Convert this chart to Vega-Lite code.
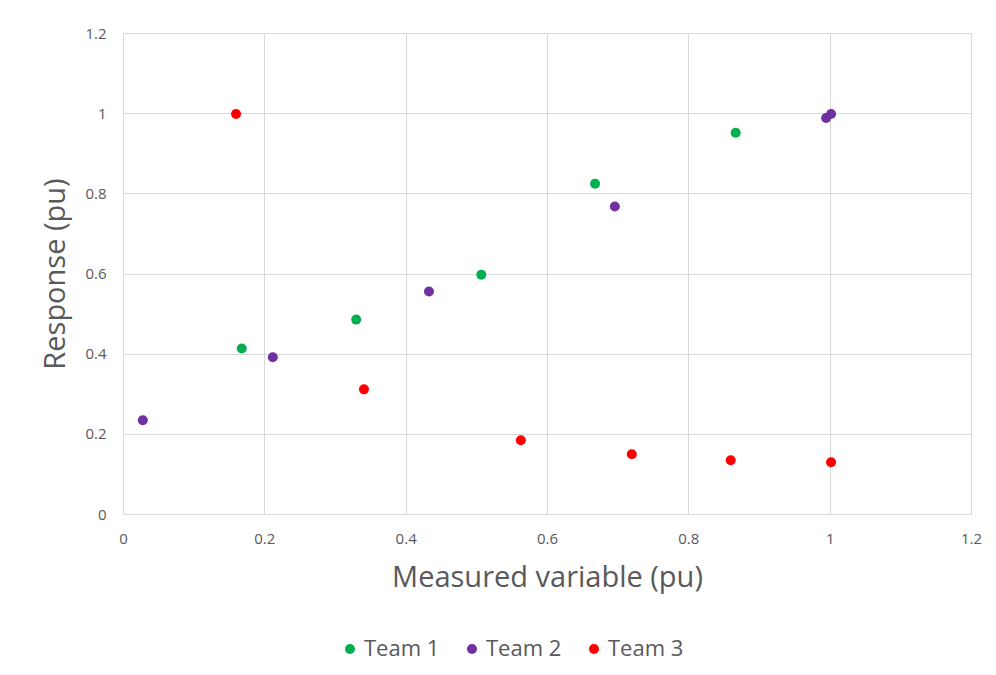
{
  "$schema": "https://vega.github.io/schema/vega-lite/v6.json",
  "autosize": {"type": "none"},
  "padding": {"left": 123, "top": 33, "right": 25, "bottom": 161},
  "width": 848,
  "height": 481,
  "background": "white",
  "config": {
    "font": "Open Sans",
    "view": {"stroke": null},
    "axis": {
      "labelColor": "#595959",
      "titleColor": "#595959",
      "labelFont": "Open Sans",
      "titleFont": "Open Sans",
      "labelFontSize": 15,
      "titleFontSize": 29,
      "titleFontWeight": "normal",
      "gridColor": "#d9d9d9",
      "domainColor": "#d9d9d9",
      "ticks": false,
      "format": "~g"
    }
  },
  "data": {
    "values": [
      {"x": 0.168, "y": 0.413, "team": "Team 1"},
      {"x": 0.330, "y": 0.485, "team": "Team 1"},
      {"x": 0.507, "y": 0.597, "team": "Team 1"},
      {"x": 0.668, "y": 0.824, "team": "Team 1"},
      {"x": 0.867, "y": 0.951, "team": "Team 1"},
      {"x": 0.028, "y": 0.234, "team": "Team 2"},
      {"x": 0.212, "y": 0.391, "team": "Team 2"},
      {"x": 0.433, "y": 0.555, "team": "Team 2"},
      {"x": 0.696, "y": 0.767, "team": "Team 2"},
      {"x": 0.995, "y": 0.988, "team": "Team 2"},
      {"x": 1.002, "y": 0.998, "team": "Team 2"},
      {"x": 0.160, "y": 0.998, "team": "Team 3"},
      {"x": 0.341, "y": 0.311, "team": "Team 3"},
      {"x": 0.563, "y": 0.184, "team": "Team 3"},
      {"x": 0.720, "y": 0.149, "team": "Team 3"},
      {"x": 0.860, "y": 0.134, "team": "Team 3"},
      {"x": 1.002, "y": 0.129, "team": "Team 3"}
    ]
  },
  "mark": {"type": "circle", "size": 100, "opacity": 1},
  "encoding": {
    "x": {
      "field": "x", "type": "quantitative",
      "scale": {"domain": [0, 1.2], "nice": false, "zero": true},
      "axis": {"values": [0, 0.2, 0.4, 0.6, 0.8, 1, 1.2], "format": "~g", "labelPadding": 17, "titlePadding": 17, "title": "Measured variable (pu)", "labelFlush": false}
    },
    "y": {
      "field": "y", "type": "quantitative",
      "scale": {"domain": [0, 1.2], "nice": false},
      "axis": {"values": [0, 0.2, 0.4, 0.6, 0.8, 1, 1.2], "format": "~g", "labelPadding": 17, "titlePadding": 14, "title": "Response (pu)", "labelFlush": false}
    },
    "color": {
      "field": "team", "type": "nominal",
      "scale": {"domain": ["Team 1", "Team 2", "Team 3"], "range": ["#00b050", "#7030a0", "#ff0000"]},
      "legend": {
        "orient": "none", "legendX": 216, "legendY": 605, "direction": "horizontal", "title": null,
        "labelFontSize": 22, "labelColor": "#595959", "labelFont": "Open Sans",
        "symbolType": "circle", "symbolSize": 100, "symbolOpacity": 1,
        "columnPadding": 21, "labelOffset": 3
      }
    }
  }
}
